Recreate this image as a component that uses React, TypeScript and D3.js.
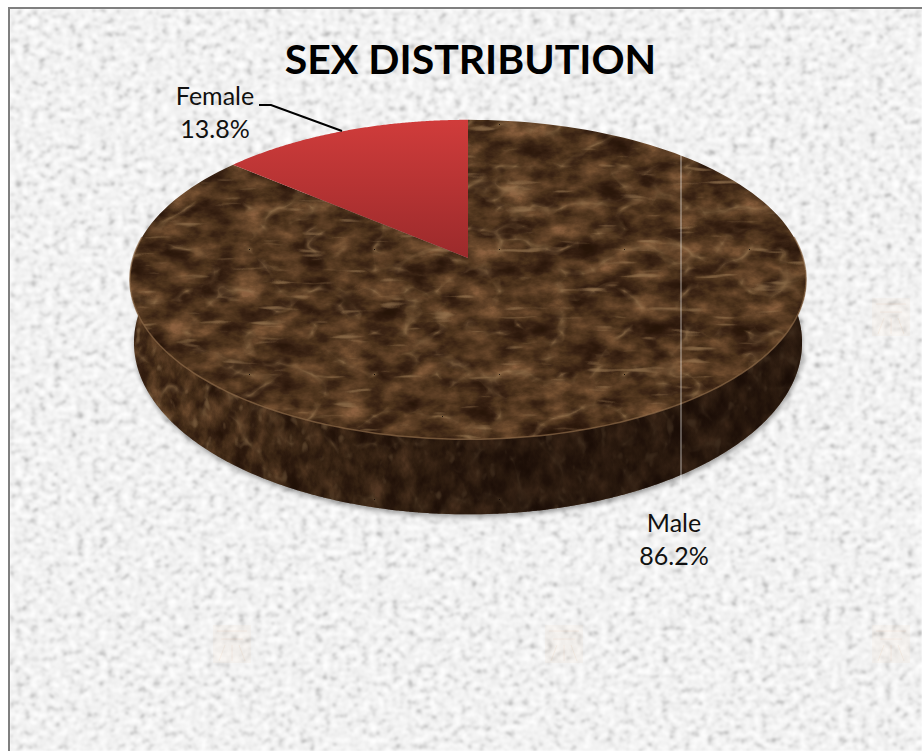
import React from "react";
import * as d3 from "d3";

// Share of respondents by sex, in percent
const categories = ["Male", "Female"];
const shares = [86.2, 13.8];
const chartTitle = "SEX DISTRIBUTION";

const WIDTH = 922;
const HEIGHT = 751;
const CX = 468;
const FONT = "Lato, 'Open Sans', sans-serif";

// Perspective projection of the unit circle (u right, v towards the back) onto the page
const TILT = -0.135;
const RADIUS = 335;
function projectTop(u: number, v: number): [number, number] {
  const w = 1 - TILT * v;
  return [CX + (RADIUS * u) / w, (258 - 122 * v) / w];
}
function projectBottom(u: number, v: number): [number, number] {
  const [x, y] = projectTop(u, v);
  return [CX + (x - CX) * 0.988, 342 + (y - 279) * 1.075];
}
const onRim = (project: typeof projectTop, a: number) => project(Math.sin(a), Math.cos(a));

const pathOf = d3.line<[number, number]>().x((d) => d[0]).y((d) => d[1]);
const sweep = (a0: number, a1: number, n = 160) =>
  d3.range(n + 1).map((i) => a0 + ((a1 - a0) * i) / n);

const slices = d3.pie<number>().sort(null).value((d) => d)(shares);

function slicePath(a0: number, a1: number) {
  const rim = sweep(a0, a1).map((a) => onRim(projectTop, a));
  return pathOf([projectTop(0, 0), ...rim]) + "Z";
}

// Silhouette of the drum: the tangent points of the rim sit slightly behind the centre
const tangent = Math.acos(-TILT);
const bandAngles = sweep(tangent, 2 * Math.PI - tangent, 200);
const bandPath =
  pathOf([
    ...bandAngles.map((a) => onRim(projectTop, a)),
    ...bandAngles.slice().reverse().map((a) => onRim(projectBottom, a)),
  ]) + "Z";
const bottomOutline = pathOf(sweep(0, 2 * Math.PI, 240).map((a) => onRim(projectBottom, a))) + "Z";
const lipPath = pathOf(bandAngles.map((a) => onRim(projectTop, a))) ?? "";

const labelText = (i: number) => `${d3.format(".1f")(shares[i])}%`;

// Faint stamp repeated across the paper texture
const stampOrigins: [number, number][] = [[213, 625], [545, 625], [872, 625], [872, 298]];

// Polished stone: mottled brown with pale horizontal streaks and veins running across it
function MarbleFilter(props: {
  id: string; seed: number; x: number; y: number; w: number; h: number; blot: string; vein: string; streak: string;
}) {
  const { id, seed, x, y, w, h, blot, vein, streak } = props;
  return (
    <filter id={id} filterUnits="userSpaceOnUse" x={x} y={y} width={w} height={h} colorInterpolationFilters="sRGB">
      <feTurbulence type="fractalNoise" baseFrequency={blot} numOctaves={5} seed={seed} result="blotch" />
      <feColorMatrix in="blotch" type="matrix" values="1.35 0 0 0 -.17  1.35 0 0 0 -.17  1.35 0 0 0 -.17  0 0 0 0 1" result="gray" />
      <feComponentTransfer in="gray" result="brown">
        <feFuncR type="table" tableValues=".15 .18 .23 .3 .37 .45 .55" />
        <feFuncG type="table" tableValues=".08 .1 .14 .2 .25 .31 .38" />
        <feFuncB type="table" tableValues=".03 .05 .08 .11 .15 .19 .25" />
      </feComponentTransfer>
      <feTurbulence type="fractalNoise" baseFrequency={streak} numOctaves={2} seed={seed + 23} result="streakNoise" />
      <feColorMatrix in="streakNoise" type="matrix" values="0 0 0 0 .62  0 0 0 0 .49  0 0 0 0 .34  1 0 0 0 0" result="streakRaw" />
      <feComponentTransfer in="streakRaw" result="streaks">
        <feFuncA type="table" tableValues="0 0 0 0 0 0 .03 .5 .75 .85" />
      </feComponentTransfer>
      <feTurbulence type="turbulence" baseFrequency={vein} numOctaves={3} seed={seed + 11} result="cracks" />
      <feColorMatrix in="cracks" type="matrix" values="0 0 0 0 .6  0 0 0 0 .47  0 0 0 0 .32  0 0 0 1 0" result="veinRaw" />
      <feComponentTransfer in="veinRaw" result="veins">
        <feFuncA type="table" tableValues=".7 .25 .02 0 0 0 0 0 0 0 0 0" />
      </feComponentTransfer>
      <feMerge result="veined">
        <feMergeNode in="brown" />
        <feMergeNode in="streaks" />
        <feMergeNode in="veins" />
      </feMerge>
      <feGaussianBlur in="veined" stdDeviation=".55 .4" />
    </filter>
  );
}

export default function App() {
  const maleSlice = slices[categories.indexOf("Male")];
  const femaleSlice = slices[categories.indexOf("Female")];
  return (
    <svg
      width={WIDTH}
      height={HEIGHT}
      viewBox={`0 0 ${WIDTH} ${HEIGHT}`}
      style={{ position: "fixed", left: 0, top: 0, background: "#fff" }}
      fontFamily={FONT}
    >
      <defs>
        <filter id="paper" x="0" y="0" width="1" height="1" colorInterpolationFilters="sRGB">
          <feTurbulence type="fractalNoise" baseFrequency=".13 .16" numOctaves={3} seed={4} />
          <feColorMatrix type="matrix" values="1.5 0 0 0 -.25  1.5 0 0 0 -.25  1.5 0 0 0 -.25  0 0 0 0 1" />
          <feComponentTransfer>
            <feFuncR type="table" tableValues=".73 .85 .92 .95 .97 .99 1" />
            <feFuncG type="table" tableValues=".73 .85 .92 .95 .97 .99 1" />
            <feFuncB type="table" tableValues=".73 .85 .92 .95 .97 .99 1" />
          </feComponentTransfer>
          <feGaussianBlur stdDeviation=".8" />
        </filter>
        <MarbleFilter
          id="marbleTopFx" seed={8} x={125} y={115} w={690} h={335}
          blot=".03 .05" vein=".016 .024" streak=".024 .15"
        />
        <MarbleFilter
          id="marbleSideFx" seed={21} x={125} y={270} w={690} h={255}
          blot=".06 .04" vein=".024 .018" streak=".09 .06"
        />
        <linearGradient id="redFace" gradientUnits="userSpaceOnUse" x1={0} x2={0} y1={120} y2={258}>
          <stop offset="0" stopColor="#d03c3b" />
          <stop offset="1" stopColor="#9b2a2b" />
        </linearGradient>
        <linearGradient id="sideShade" gradientUnits="userSpaceOnUse" x1={130} x2={806} y1={0} y2={0}>
          <stop offset="0" stopColor="#1a0c04" stopOpacity=".05" />
          <stop offset=".25" stopColor="#150a04" stopOpacity=".38" />
          <stop offset=".55" stopColor="#120804" stopOpacity=".64" />
          <stop offset="1" stopColor="#120804" stopOpacity=".66" />
        </linearGradient>
        <filter id="softShadow" x="-5%" y="-5%" width="110%" height="110%">
          <feGaussianBlur stdDeviation="2.5" />
        </filter>
        <clipPath id="maleFace">
          <path d={slicePath(maleSlice.startAngle, maleSlice.endAngle)} />
        </clipPath>
        <clipPath id="drumWall">
          <path d={bottomOutline} />
          <path d={bandPath} />
        </clipPath>
      </defs>

      {/* Page frame and textured backdrop */}
      <rect x={10} y={9} width={WIDTH - 10} height={HEIGHT - 9} filter="url(#paper)" />
      <rect x={8} y={7} width={2} height={HEIGHT - 7} fill="#7f7f7f" />
      <rect x={8} y={7} width={WIDTH - 8} height={2} fill="#7f7f7f" />
      <g stroke="#e9a56a" strokeWidth={1} opacity={0.14} fill="none">
        {stampOrigins.map(([x, y]) => (
          <g key={`${x}-${y}`}>
            <rect x={x} y={y} width={38} height={38} fill="#f3cfa8" stroke="none" opacity={0.5} />
            <path d={`M${x + 4} ${y + 6}H${x + 34}M${x + 8} ${y + 14}H${x + 30}M${x + 12} ${y + 20}L${x + 6} ${y + 36}M${x + 19} ${y + 20}V${y + 36}M${x + 26} ${y + 20}L${x + 32} ${y + 36}`} />
          </g>
        ))}
      </g>

      {/* Drum: shadow, side wall, then the sliced top */}
      <path d={bottomOutline} transform="translate(1 3)" fill="#000" opacity={0.35} filter="url(#softShadow)" />
      <g clipPath="url(#drumWall)">
        <rect x={125} y={270} width={690} height={255} filter="url(#marbleSideFx)" />
        <rect x={125} y={270} width={690} height={255} fill="url(#sideShade)" />
      </g>
      <g clipPath="url(#maleFace)">
        <rect x={125} y={115} width={690} height={335} filter="url(#marbleTopFx)" />
      </g>
      <path d={lipPath} fill="none" stroke="#8c6a48" strokeWidth={1.5} opacity={0.7} />
      <path d={slicePath(femaleSlice.startAngle, femaleSlice.endAngle)} fill="url(#redFace)" />

      {/* Leader lines */}
      <line x1={681} x2={681} y1={155} y2={485} stroke="#ffffff" strokeOpacity={0.6} strokeWidth={1} />
      <polyline points="259,105 271,105 342,131" fill="none" stroke="#000" strokeWidth={2} />

      {/* Title and data labels */}
      <text x={470.5} y={74} textAnchor="middle" fontSize={41} fontWeight={700} fill="#000">{chartTitle}</text>
      <g fontSize={25} fill="#111" textAnchor="middle">
        <text x={215} y={105}>{categories[1]}</text>
        <text x={215} y={138}>{labelText(1)}</text>
        <text x={674} y={532}>{categories[0]}</text>
        <text x={674} y={565}>{labelText(0)}</text>
      </g>
    </svg>
  );
}
